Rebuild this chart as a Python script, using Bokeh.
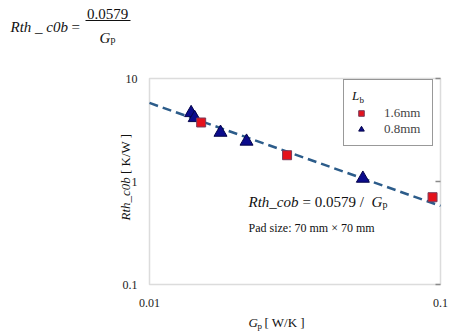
import math
from bokeh.plotting import figure
from bokeh.models import Range1d, Label, BoxAnnotation, Legend, LegendItem
from bokeh.core.properties import value
from bokeh.embed import file_html
from bokeh.resources import INLINE

# Measured pad-to-board thermal resistance versus pad conductance
gp_16mm = [0.01505, 0.0297, 0.0939]          # Lb = 1.6 mm
rth_16mm = [3.74, 1.80, 0.704]
gp_08mm = [0.0139, 0.0143, 0.01754, 0.02155, 0.0541]   # Lb = 0.8 mm
rth_08mm = [4.64, 4.15, 2.99, 2.45, 1.07]

# Fitted curve Rth_cob = k / Gp
fit_k = 0.0579
fit_gp = [0.01, 0.1]

x_ticks = [0.01, 0.1]
x_tick_labels = ["0.01", "0.1"]
y_ticks = [0.1, 1, 10]
y_tick_labels = ["0.1", "1", "10"]

W, H = 467, 332
# axes box inside the canvas (pixels): left, right, top, bottom
BL, BR, BT, BB = 149, 440, 78, 284
SERIF = "Liberation Serif"

# The plotting frame covers the whole canvas so that every text can be drawn
# as an annotation; the ranges are stretched so the axes box sits at BL..BR, BT..BB.
px_dec_x = (BR - BL) / (math.log10(x_ticks[-1]) - math.log10(x_ticks[0]))
px_dec_y = (BB - BT) / (math.log10(y_ticks[-1]) - math.log10(y_ticks[0]))
x_lo = math.log10(x_ticks[0]) - BL / px_dec_x
x_hi = math.log10(x_ticks[-1]) + (W - BR) / px_dec_x
y_lo = math.log10(y_ticks[0]) - (H - BB) / px_dec_y
y_hi = math.log10(y_ticks[-1]) + BT / px_dec_y

p = figure(width=W, height=H, x_axis_type="log", y_axis_type="log",
           x_range=Range1d(10 ** x_lo, 10 ** x_hi),
           y_range=Range1d(10 ** y_lo, 10 ** y_hi),
           x_axis_location=None, y_axis_location=None,
           output_backend="svg", toolbar_location=None,
           min_border=0)
p.background_fill_color = "white"
p.border_fill_color = "white"
p.outline_line_color = None
p.xgrid.visible = False
p.ygrid.visible = False

# axes box
p.add_layout(BoxAnnotation(left=x_ticks[0], right=x_ticks[-1],
                           bottom=y_ticks[0], top=y_ticks[-1],
                           fill_alpha=0, line_color="#8a8a8a", line_width=1.5,
                           level="underlay"))
# inward ticks on the right edge
p.ray(x=[x_ticks[-1]] * len(y_ticks), y=y_ticks, length=5, length_units="screen",
      angle=math.pi, line_color="#8a8a8a", line_width=1.5)

# tick labels
p.text(x=[x_ticks[0]] * len(y_ticks), y=y_ticks, text=y_tick_labels,
       x_offset=-12, text_align="right", text_baseline="middle",
       text_font=value(SERIF), text_font_size="12px", text_color="#222222")
p.text(x=x_ticks, y=[y_ticks[0]] * len(x_ticks), text=x_tick_labels,
       y_offset=18, text_align="center", text_baseline="middle",
       text_font=value(SERIF), text_font_size="12px", text_color="#222222")

# fitted line
p.line(fit_gp, [fit_k / g for g in fit_gp], line_color="#2c5c8a",
       line_width=2.5, line_dash="9 5")

tri = p.scatter(gp_08mm, rth_08mm, marker="triangle", size=13,
                fill_color="#0b0b8c", line_color="#05054a", line_width=1)
sq = p.scatter(gp_16mm, rth_16mm, marker="square", size=9,
               fill_color="#e5121c", line_color="#7a3c5a", line_width=1)

legend = Legend(items=[LegendItem(label="1.6mm", renderers=[sq]),
                       LegendItem(label="0.8mm", renderers=[tri])],
                location=(343, H - 146), title="L",
                title_text_font=SERIF, title_text_font_style="italic",
                title_text_color="#111111",
                title_text_font_size="13px", title_standoff=1,
                label_text_font=SERIF, label_text_font_size="13px",
                label_height=14, label_width=40, glyph_width=18, glyph_height=14,
                label_standoff=14, spacing=0, padding=8, margin=0,
                border_line_color="#333333", border_line_width=1,
                background_fill_alpha=0)
p.add_layout(legend, "center")


def put(text, cx, cy, size, style="normal", align="left", baseline="alphabetic",
        angle=0.0, color="#111111"):
    """Place text at canvas pixel (cx, cy)."""
    p.add_layout(Label(x=cx, y=H - cy, x_units="screen", y_units="screen",
                       text=text, text_font=SERIF, text_font_size=f"{size}px",
                       text_font_style=style, text_align=align,
                       text_baseline=baseline, angle=angle, text_color=color,
                       level="overlay"))


# subscript of the legend title L_b
put("b", 359, 99.5, 9)

# formula inside the plot
put("Rth_cob", 248, 201, 15, "italic")
put("= 0.0579 /", 302, 201, 15)
put("G", 371, 201, 15, "italic")
put("p", 382, 204, 10)
put("Pad size: 70 mm × 70 mm", 248, 227, 12)

# axis titles
put("G", 248, 322, 13, "italic")
put("p", 257, 325, 9)
put("[ W/K ]", 264, 322, 13)
put("Rth_c0b", 124.5, 220, 13, "italic", angle=math.pi / 2)
put("[ K/W ]", 124.5, 173.5, 13, angle=math.pi / 2)

# formula in the top-left corner
put("Rth _ c0b", 10, 26, 15, "italic")
put("=", 71, 26, 15)
put("0.0579", 107, 13, 15, align="center")
put("G", 99, 37, 15, "italic")
put("p", 110, 39, 10)
p.add_layout(BoxAnnotation(left=85, right=130, top=H - 19.5, bottom=H - 20.5,
                           left_units="screen", right_units="screen",
                           top_units="screen", bottom_units="screen",
                           fill_color="#111111", fill_alpha=1, line_color=None,
                           level="overlay"))

open("out.html", "w").write(file_html(p, INLINE))
